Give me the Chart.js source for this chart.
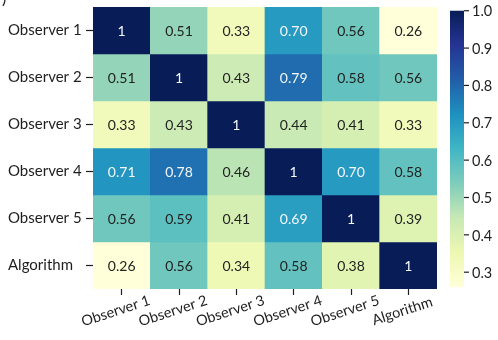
<!DOCTYPE html>
<html>
<head>
<meta charset="utf-8">
<script src="https://cdn.jsdelivr.net/npm/chart.js@4/dist/chart.umd.min.js"></script>
<style>
  html, body { margin: 0; padding: 0; background: #ffffff; }
  canvas { display: block; }
</style>
</head>
<body>
<canvas id="heat" width="498" height="340" style="width:498px;height:340px"></canvas>
<script>
// Raters compared pairwise; rows top to bottom, columns left to right
const rowLabels = ['Observer 1', 'Observer 2', 'Observer 3', 'Observer 4', 'Observer 5', 'Algorithm'];
const colLabels = ['Observer 1', 'Observer 2', 'Observer 3', 'Observer 4', 'Observer 5', 'Algorithm'];

// Agreement values, one array per row
const observer1 = [1, 0.51, 0.33, 0.70, 0.56, 0.26];
const observer2 = [0.51, 1, 0.43, 0.79, 0.58, 0.56];
const observer3 = [0.33, 0.43, 1, 0.44, 0.41, 0.33];
const observer4 = [0.71, 0.78, 0.46, 1, 0.70, 0.58];
const observer5 = [0.56, 0.59, 0.41, 0.69, 1, 0.39];
const algorithm = [0.26, 0.56, 0.34, 0.58, 0.38, 1];

// Colour bar ticks and colour range
const colorbarTicks = [0.3, 0.4, 0.5, 0.6, 0.7, 0.8, 0.9, 1.0];
const vmin = 0.26;
const vmax = 1.0;

const matrix = [observer1, observer2, observer3, observer4, observer5, algorithm];

// YlGnBu colour ramp
const ramp = ['#ffffd9', '#edf8b1', '#c7e9b4', '#7fcdbb', '#41b6c4', '#1d91c0', '#225ea8', '#253494', '#081d58'];
const rampRgb = ramp.map(h => [parseInt(h.slice(1, 3), 16), parseInt(h.slice(3, 5), 16), parseInt(h.slice(5, 7), 16)]);

function rgbFor(v) {
  let t = (v - vmin) / (vmax - vmin);
  t = Math.max(0, Math.min(1, t));
  const pos = t * (rampRgb.length - 1);
  const i = Math.min(Math.floor(pos), rampRgb.length - 2);
  const f = pos - i;
  const a = rampRgb[i], b = rampRgb[i + 1];
  return [0, 1, 2].map(k => Math.round(a[k] + (b[k] - a[k]) * f));
}
function colorFor(v) {
  const c = rgbFor(v);
  return `rgb(${c[0]},${c[1]},${c[2]})`;
}
function luminance(c) {
  const lin = c.map(x => { x /= 255; return x <= 0.03928 ? x / 12.92 : Math.pow((x + 0.055) / 1.055, 2.4); });
  return 0.2126 * lin[0] + 0.7152 * lin[1] + 0.0722 * lin[2];
}
function formatValue(v) { return v === 1 ? '1' : v.toFixed(2); }

const FONT = 'Lato, "Open Sans", sans-serif';
const INK = '#1e1e1e';

// Each row is a stack segment of height 1 in every column
const datasets = matrix.map((vals, r) => ({
  label: rowLabels[r],
  data: colLabels.map(() => 1),
  values: vals,
  backgroundColor: vals.map(colorFor),
  borderWidth: 0,
  barPercentage: 1,
  categoryPercentage: 1
}));

// Numbers printed in each cell
const cellText = {
  id: 'cellText',
  afterDatasetsDraw(chart) {
    const ctx = chart.ctx;
    ctx.save();
    ctx.font = `14px ${FONT}`;
    ctx.textAlign = 'center';
    ctx.textBaseline = 'middle';
    chart.data.datasets.forEach((ds, r) => {
      chart.getDatasetMeta(r).data.forEach((bar, c) => {
        const v = ds.values[c];
        const p = bar.getCenterPoint();
        ctx.fillStyle = luminance(rgbFor(v)) < 0.408 ? '#f4f7fb' : '#222222';
        ctx.fillText(formatValue(v), p.x, p.y + 1);
      });
    });
    ctx.restore();
  }
};

// Rotated column labels under the x ticks
const columnLabels = {
  id: 'columnLabels',
  afterDraw(chart) {
    const ctx = chart.ctx;
    const xs = chart.scales.x;
    const y = chart.chartArea.bottom + 22;
    ctx.save();
    ctx.font = `14.5px ${FONT}`;
    ctx.fillStyle = INK;
    ctx.textAlign = 'center';
    ctx.textBaseline = 'middle';
    colLabels.forEach((lab, i) => {
      ctx.save();
      ctx.translate(xs.getPixelForTick(i) - 6, y);
      ctx.rotate(-18 * Math.PI / 180);
      ctx.fillText(lab, 0, 0);
      ctx.restore();
    });
    ctx.restore();
  }
};

// Colour bar on the right, placed with the cbar scale
const colorBar = {
  id: 'colorBar',
  afterDraw(chart) {
    const ctx = chart.ctx;
    const s = chart.scales.cbar;
    const x0 = chart.chartArea.right + 13;
    const w = 14;
    const yTop = s.getPixelForValue(vmax);
    const yBot = s.getPixelForValue(vmin);
    const g = ctx.createLinearGradient(0, yBot, 0, yTop);
    ramp.forEach((c, i) => g.addColorStop(i / (ramp.length - 1), c));
    ctx.save();
    ctx.fillStyle = g;
    ctx.fillRect(x0, yTop, w, yBot - yTop);
    ctx.strokeStyle = INK;
    ctx.lineWidth = 1.2;
    ctx.fillStyle = INK;
    ctx.font = `14.5px ${FONT}`;
    ctx.textAlign = 'left';
    ctx.textBaseline = 'middle';
    colorbarTicks.forEach(t => {
      const y = s.getPixelForValue(t);
      ctx.beginPath();
      ctx.moveTo(x0 + w, y);
      ctx.lineTo(x0 + w + 5, y);
      ctx.stroke();
      ctx.fillText(t.toFixed(1), x0 + w + 8, y + 1);
    });
    // panel letter, mostly cropped at the top edge
    ctx.font = `16px ${FONT}`;
    ctx.textBaseline = 'alphabetic';
    ctx.fillText(')', 2, 4);
    ctx.restore();
  }
};

new Chart(document.getElementById('heat'), {
  type: 'bar',
  data: { labels: colLabels, datasets },
  options: {
    responsive: false,
    animation: false,
    layout: { padding: { left: 8, top: 7, right: 61, bottom: 0 } },
    plugins: { legend: { display: false }, tooltip: { enabled: false } },
    scales: {
      x: {
        stacked: true,
        grid: { display: true, drawOnChartArea: false, offset: false, tickLength: 6, color: INK, tickWidth: 1.2 },
        border: { display: false },
        ticks: { display: false },
        afterFit(s) { s.height = 51; s.paddingLeft = 0; s.paddingRight = 0; }
      },
      y: {
        type: 'linear',
        stacked: true,
        reverse: true,
        min: 0,
        max: rowLabels.length,
        grid: { display: true, drawOnChartArea: false, tickLength: 7, color: INK, tickWidth: 1.2 },
        border: { display: false },
        afterBuildTicks(s) { s.ticks = rowLabels.map((_, i) => ({ value: i + 0.5 })); },
        ticks: {
          crossAlign: 'far',
          color: INK,
          font: { family: FONT, size: 15 },
          callback: (v, i) => rowLabels[i]
        },
        afterFit(s) { s.width = 85; s.paddingTop = 0; s.paddingBottom = 0; }
      },
      cbar: {
        type: 'linear',
        axis: 'y',
        display: false,
        min: 0.255,
        max: 1.01
      }
    }
  },
  plugins: [cellText, columnLabels, colorBar]
});
</script>
</body>
</html>
